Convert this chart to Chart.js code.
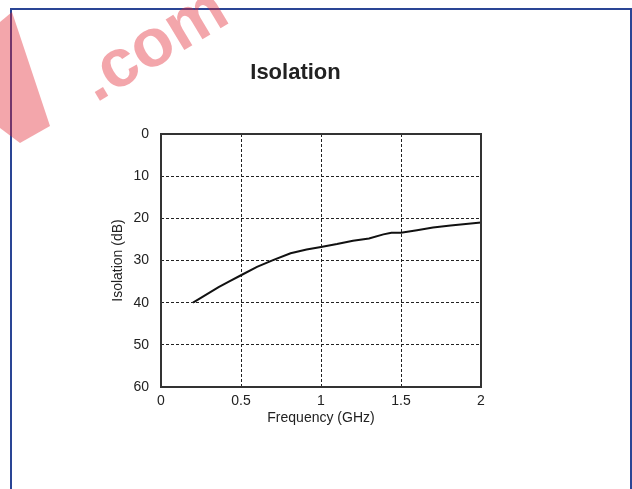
<!DOCTYPE html>
<html>
<head>
<meta charset="utf-8">
<script src="https://cdn.jsdelivr.net/npm/chart.js@4"></script>
<style>
  body { margin: 0; background: #fff; }
  #marco {
    position: absolute; left: 10px; top: 8px; width: 618px; height: 500px;
    border-top: 2px solid #2a4595; border-left: 2px solid #2a4595; border-right: 2px solid #2a4595;
  }
  #caja { position: absolute; left: 0; top: 0; width: 632px; height: 489px; }
</style>
</head>
<body>
<div id="marco"></div>
<div id="caja"><canvas id="graficoIsolation"></canvas></div>
<script>
// datos
const frecuenciasGHz = [0.2, 0.36, 0.43, 0.5, 0.6, 0.7, 0.81, 0.91, 1.0, 1.1, 1.2, 1.3, 1.39, 1.44, 1.5, 1.6, 1.7, 1.81, 2.0];
const aislamientoDb = [40, 36.3, 34.9, 33.5, 31.5, 29.9, 28.3, 27.4, 26.8, 26.1, 25.3, 24.8, 23.8, 23.4, 23.4, 22.8, 22.2, 21.7, 21.0];
const valoresX = [0, 0.5, 1, 1.5, 2];
const etiquetasX = ['0', '0.5', '1', '1.5', '2'];
const valoresY = [0, 10, 20, 30, 40, 50, 60];
const etiquetasY = ['0', '10', '20', '30', '40', '50', '60'];
const titulo = 'Isolation';
const tituloX = 'Frequency (GHz)';
const tituloY = 'Isolation (dB)';
const marcaAgua = '.com';

const fuente = 'Liberation Sans, Arial, sans-serif';

function etiqueta(valores, etiquetas) {
  return v => {
    const i = valores.findIndex(t => Math.abs(t - v) < 1e-9);
    return i >= 0 ? etiquetas[i] : '';
  };
}

// marca de agua rosa de la imagen original
const pluginMarcaAgua = {
  id: 'marcaAgua',
  beforeDraw(chart) {
    const ctx = chart.ctx;
    ctx.save();
    ctx.globalAlpha = 0.4;
    ctx.fillStyle = '#e0202e';
    ctx.beginPath();
    ctx.moveTo(0, 22);
    ctx.lineTo(12, 12);
    ctx.lineTo(50, 126);
    ctx.lineTo(20, 143);
    ctx.lineTo(0, 128);
    ctx.closePath();
    ctx.fill();
    ctx.translate(96, 103);
    ctx.rotate(-31 * Math.PI / 180);
    ctx.font = 'bold 68px ' + fuente;
    ctx.fillText(marcaAgua, 0, 0);
    ctx.restore();
  }
};

// marco continuo alrededor del area de trazado
const pluginMarco = {
  id: 'marcoArea',
  afterDatasetsDraw(chart) {
    const { ctx, chartArea: a } = chart;
    ctx.save();
    ctx.strokeStyle = '#333';
    ctx.lineWidth = 2;
    ctx.strokeRect(a.left, a.top, a.right - a.left, a.bottom - a.top);
    ctx.restore();
  }
};

const rejilla = {
  color: '#222',
  lineWidth: 1,
  drawTicks: false
};

new Chart(document.getElementById('graficoIsolation'), {
  type: 'line',
  data: {
    datasets: [{
      label: tituloY,
      data: frecuenciasGHz.map((f, i) => ({ x: f, y: aislamientoDb[i] })),
      borderColor: '#111',
      borderWidth: 2,
      pointRadius: 0,
      tension: 0,
      fill: false
    }]
  },
  options: {
    responsive: true,
    maintainAspectRatio: false,
    animation: false,
    layout: { padding: { left: 110, right: 151, top: 0, bottom: 62 } },
    plugins: {
      legend: { display: false },
      tooltip: { enabled: false },
      title: {
        display: true,
        text: titulo,
        color: '#222',
        font: { family: fuente, size: 22, weight: 'bold' },
        padding: { top: 60, bottom: 47.6 }
      }
    },
    scales: {
      x: {
        type: 'linear',
        min: 0,
        max: 2,
        ticks: {
          stepSize: 0.5, color: '#222', padding: 6, font: { family: fuente, size: 14 },
          callback: etiqueta(valoresX, etiquetasX)
        },
        grid: rejilla,
        border: { display: false, dash: [3, 2] },
        title: { display: true, text: tituloX, color: '#222', padding: 0, font: { family: fuente, size: 14 } },
        afterFit(scale) { scale.height = 40; }
      },
      y: {
        type: 'linear',
        reverse: true,
        min: 0,
        max: 60,
        ticks: {
          stepSize: 10, color: '#222', padding: 12, font: { family: fuente, size: 14 },
          callback: etiqueta(valoresY, etiquetasY)
        },
        grid: rejilla,
        border: { display: false, dash: [3, 2] },
        title: { display: true, text: tituloY, color: '#222', padding: 0, font: { family: fuente, size: 14 } },
        afterFit(scale) { scale.width = 51; }
      }
    }
  },
  plugins: [pluginMarcaAgua, pluginMarco]
});
</script>
</body>
</html>
